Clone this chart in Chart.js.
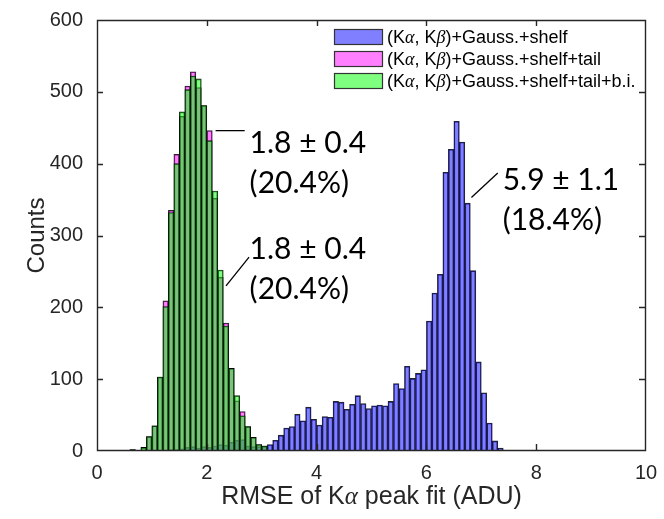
<!DOCTYPE html>
<html>
<head>
<meta charset="utf-8">
<script src="https://cdn.jsdelivr.net/npm/chart.js@4.4.0/dist/chart.umd.min.js"></script>
<style>
  html, body { margin: 0; padding: 0; background: #fff; }
  #wrap { width: 664px; height: 519px; }
</style>
</head>
<body>
<div id="wrap"><canvas id="rmseChart" width="664" height="519"></canvas></div>
<script>
// histogram bin centres (ADU), bins are 0.1 ADU wide
const binCenters = [
  0.65, 0.75, 0.85, 0.95, 1.05, 1.15, 1.25, 1.35, 1.45, 1.55,
  1.65, 1.75, 1.85, 1.95, 2.05, 2.15, 2.25, 2.35, 2.45, 2.55,
  2.65, 2.75, 2.85, 2.95, 3.05, 3.15, 3.25, 3.35, 3.45, 3.55,
  3.65, 3.75, 3.85, 3.95, 4.05, 4.15, 4.25, 4.35, 4.45, 4.55,
  4.65, 4.75, 4.85, 4.95, 5.05, 5.15, 5.25, 5.35, 5.45, 5.55,
  5.65, 5.75, 5.85, 5.95, 6.05, 6.15, 6.25, 6.35, 6.45, 6.55,
  6.65, 6.75, 6.85, 6.95, 7.05, 7.15, 7.25, 7.35
];

// counts per bin, starting at the first bin centre
const countsShelf = [
  0, 0, 0, 0, 0, 0, 1, 2, 2, 3,
  5, 6, 4, 6, 5, 7, 9, 8, 12, 15,
  16, 7, 6, 6, 7, 9, 15, 22, 32, 34,
  51, 42, 61, 44, 36, 48, 47, 69, 68, 58,
  65, 77, 66, 59, 63, 64, 63, 69, 94, 87,
  118, 101, 108, 113, 181, 220, 246, 388, 420, 459,
  430, 345, 251, 124, 81, 39, 14, 4
];
const countsTail = [
  2, 0, 5, 20, 35, 103, 209, 335, 413, 466,
  508, 528, 506, 481, 446, 352, 242, 178, 115, 70,
  55, 34, 19, 9, 7
];
const countsTailBi = [
  2, 0, 5, 20, 35, 103, 201, 332, 400, 472,
  503, 522, 518, 481, 432, 362, 252, 174, 115, 77,
  49, 34, 19, 9, 7
];

const seriesLabels = [
  '(Kα, Kβ)+Gauss.+shelf',
  '(Kα, Kβ)+Gauss.+shelf+tail',
  '(Kα, Kβ)+Gauss.+shelf+tail+b.i.'
];
const seriesColors = ['rgba(0,0,255,0.5)', 'rgba(255,0,255,0.5)', 'rgba(0,255,0,0.5)'];
const xTicks = [0, 2, 4, 6, 8, 10];
const yTicks = [0, 100, 200, 300, 400, 500, 600];

// fit results next to the peaks (text anchor and leader line, in data units)
const fitNotes = [
  { lines: ['1.8 ± 0.4', '(20.4%)'], at: [2.78, 429], from: [2.16, 446], to: [2.69, 446] },
  { lines: ['1.8 ± 0.4', '(20.4%)'], at: [2.78, 281], from: [2.35, 230], to: [2.77, 270] },
  { lines: ['5.9 ± 1.1', '(18.4%)'], at: [7.39, 377], from: [6.82, 353], to: [7.30, 387] }
];

const AXIS = '#262626';
const SANS = '"Liberation Sans", Arial, sans-serif';

function toPoints(counts) {
  return counts.map((v, i) => ({ x: binCenters[i], y: v > 0 ? v : null }));
}

// text with greek letters set in a different font
function richParts(text, font, greekFont) {
  const parts = [];
  for (const ch of text) {
    const f = /[αβ]/.test(ch) ? greekFont : font;
    if (parts.length && parts[parts.length - 1].font === f) parts[parts.length - 1].text += ch;
    else parts.push({ text: ch, font: f });
  }
  return parts;
}
function drawRich(ctx, parts, x, y, align) {
  let w = 0;
  parts.forEach(p => { ctx.font = p.font; w += ctx.measureText(p.text).width; });
  let cx = align === 'center' ? x - w / 2 : x;
  ctx.textAlign = 'left';
  parts.forEach(p => {
    ctx.font = p.font;
    ctx.fillText(p.text, cx, y);
    cx += ctx.measureText(p.text).width;
  });
}

const boxPlugin = {
  id: 'matlabBox',
  afterDraw(chart) {
    const ctx = chart.ctx;
    const a = chart.chartArea;
    const xs = chart.scales.x, ys = chart.scales.y;
    const L = Math.round(a.left), R = Math.round(a.right) - 1;
    const T = Math.round(a.top), B = Math.round(a.bottom) - 1;
    ctx.save();

    // axes box with inward ticks on all four sides
    ctx.strokeStyle = AXIS;
    ctx.lineWidth = 1.4;
    ctx.beginPath();
    ctx.rect(L + 0.5, T + 0.5, R - L, B - T);
    xTicks.forEach(t => {
      const px = Math.min(R, Math.round(xs.getPixelForValue(t))) + 0.5;
      ctx.moveTo(px, B); ctx.lineTo(px, B - 6);
      ctx.moveTo(px, T); ctx.lineTo(px, T + 6);
    });
    yTicks.forEach(t => {
      const py = Math.min(B, Math.round(ys.getPixelForValue(t))) + 0.5;
      ctx.moveTo(L, py); ctx.lineTo(L + 6, py);
      ctx.moveTo(R, py); ctx.lineTo(R - 6, py);
    });
    ctx.stroke();

    // axis titles
    ctx.fillStyle = AXIS;
    ctx.textBaseline = 'middle';
    drawRich(ctx, richParts('RMSE of Kα peak fit (ADU)', '25px ' + SANS, 'italic 25px "Liberation Serif", serif'),
             (a.left + a.right) / 2, 497, 'center');
    ctx.save();
    ctx.translate(37, (a.top + a.bottom) / 2);
    ctx.rotate(-Math.PI / 2);
    ctx.font = '24px ' + SANS;
    ctx.textAlign = 'center';
    ctx.fillText('Counts', 0, 0);
    ctx.restore();

    // fit annotations
    ctx.fillStyle = '#000';
    ctx.strokeStyle = '#000';
    ctx.lineWidth = 1.3;
    ctx.font = '30px Lato, sans-serif';
    ctx.textAlign = 'left';
    fitNotes.forEach(n => {
      ctx.beginPath();
      ctx.moveTo(xs.getPixelForValue(n.from[0]), ys.getPixelForValue(n.from[1]));
      ctx.lineTo(xs.getPixelForValue(n.to[0]), ys.getPixelForValue(n.to[1]));
      ctx.stroke();
      const tx = xs.getPixelForValue(n.at[0]);
      const ty = ys.getPixelForValue(n.at[1]);
      n.lines.forEach((line, i) => ctx.fillText(line, tx, ty + i * 40));
    });

    // legend
    ctx.lineWidth = 1.2;
    ctx.strokeStyle = '#333';
    seriesLabels.forEach((label, i) => {
      const cy = 37 + i * 22;
      ctx.fillStyle = '#fff';
      ctx.fillRect(334, cy - 8, 49, 16);
      ctx.fillStyle = seriesColors[i];
      ctx.fillRect(334, cy - 8, 49, 16);
      ctx.strokeRect(334.5, cy - 7.5, 48, 15);
      ctx.fillStyle = '#000';
      drawRich(ctx, richParts(label, '18px ' + SANS, 'italic 18px "Liberation Serif", serif'), 387, cy + 1, 'left');
    });
    ctx.restore();
  }
};

const barStyle = {
  grouped: false,
  barPercentage: 1,
  categoryPercentage: 1,
  borderWidth: 0.9,
  borderColor: 'rgba(0,0,0,0.85)',
  borderSkipped: 'start'
};

new Chart(document.getElementById('rmseChart'), {
  type: 'bar',
  data: {
    datasets: [
      { label: seriesLabels[0], data: toPoints(countsShelf), backgroundColor: seriesColors[0], order: 3, ...barStyle },
      { label: seriesLabels[1], data: toPoints(countsTail), backgroundColor: seriesColors[1], order: 2, ...barStyle },
      { label: seriesLabels[2], data: toPoints(countsTailBi), backgroundColor: seriesColors[2], order: 1, ...barStyle }
    ]
  },
  options: {
    responsive: false,
    animation: false,
    devicePixelRatio: 1,
    layout: { padding: { left: 0, top: 20, right: 18, bottom: 0 } },
    plugins: { legend: { display: false }, tooltip: { enabled: false } },
    scales: {
      x: {
        type: 'linear', min: 0, max: 10, offset: false,
        grid: { display: false },
        border: { display: false },
        ticks: { stepSize: 2, padding: 2, color: AXIS, font: { family: SANS, size: 20 } },
        afterFit: s => { s.height = 68; }
      },
      y: {
        min: 0, max: 600,
        grid: { display: false },
        border: { display: false },
        ticks: { stepSize: 100, padding: 6, color: AXIS, font: { family: SANS, size: 20 } },
        afterFit: s => { s.width = 97; }
      }
    }
  },
  plugins: [boxPlugin]
});
</script>
</body>
</html>
